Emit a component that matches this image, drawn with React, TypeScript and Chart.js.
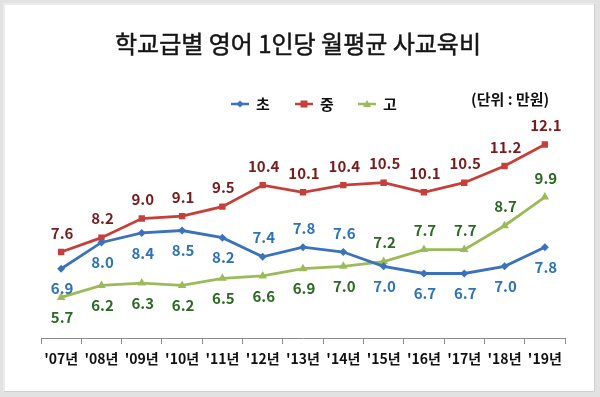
import React, { useEffect, useRef } from 'react';
import { Chart, registerables } from 'chart.js';

Chart.register(...registerables);

const title = '학교급별 영어 1인당 월평균 사교육비';
const unitText = '(단위 : 만원)';
const years = ["'07년", "'08년", "'09년", "'10년", "'11년", "'12년", "'13년", "'14년", "'15년", "'16년", "'17년", "'18년", "'19년"];
const seriesNames = ['초', '중', '고'];
const elementary = [6.9, 8.0, 8.4, 8.5, 8.2, 7.4, 7.8, 7.6, 7.0, 6.7, 6.7, 7.0, 7.8];
const middle = [7.6, 8.2, 9.0, 9.1, 9.5, 10.4, 10.1, 10.4, 10.5, 10.1, 10.5, 11.2, 12.1];
const high = [5.7, 6.2, 6.3, 6.2, 6.5, 6.6, 6.9, 7.0, 7.2, 7.7, 7.7, 8.7, 9.9];

// label placement per point: 'a' above, 'b' below
const elementaryLabelPos = ['b', 'b', 'b', 'b', 'b', 'a', 'a', 'a', 'b', 'b', 'b', 'b', 'b'];
const middleLabelPos = ['a', 'a', 'a', 'a', 'a', 'a', 'a', 'a', 'a', 'a', 'a', 'a', 'a'];
const highLabelPos = ['b', 'b', 'b', 'b', 'b', 'b', 'b', 'b', 'a', 'a', 'a', 'a', 'a'];

const FONT = "'Noto Sans CJK KR', 'Noto Sans', sans-serif";
const lineColors = ['#3b72bd', '#c63f3a', '#9bbb59'];
const labelColors = ['#2e73b8', '#7a1c1c', '#2b6a23'];
const pointStyles = ['rectRot', 'rect', 'triangle'];
const pointRadii = [4, 4.5, 5];

const decorPlugin = {
  id: 'decor',
  beforeDraw(chart: any) {
    const ctx = chart.ctx;
    const W = chart.width;
    const H = chart.height;
    ctx.save();
    ctx.fillStyle = '#e2e2e2';
    ctx.fillRect(0, 0, W, H);
    ctx.fillStyle = '#ececec';
    ctx.fillRect(3, 3, W - 8, H - 8);
    ctx.fillStyle = '#ffffff';
    ctx.fillRect(5, 5, W - 11, H - 11);
    ctx.fillStyle = '#cfcfcf';
    ctx.fillRect(W - 6, 4, 1, H - 9);
    ctx.fillRect(4, H - 6, W - 9, 1);
    ctx.restore();
  },
  afterDraw(chart: any) {
    const ctx = chart.ctx;
    ctx.save();
    // title
    ctx.fillStyle = '#151515';
    ctx.strokeStyle = '#151515';
    ctx.lineWidth = 0.5;
    ctx.font = `normal 24px ${FONT}`;
    ctx.textAlign = 'center';
    ctx.textBaseline = 'middle';
    ctx.fillText(title, 298, 44);
    ctx.strokeText(title, 298, 44);

    // unit
    ctx.font = `bold 15px ${FONT}`;
    ctx.fillStyle = '#111';
    ctx.textAlign = 'left';
    ctx.fillText(unitText, 471, 99);

    // legend
    const legendX = [231, 295, 358];
    const ly = 104;
    seriesNames.forEach((name, i) => {
      const x0 = legendX[i];
      ctx.strokeStyle = lineColors[i];
      ctx.lineWidth = 2.5;
      ctx.beginPath();
      ctx.moveTo(x0, ly);
      ctx.lineTo(x0 + 18, ly);
      ctx.stroke();
      ctx.fillStyle = lineColors[i];
      const cx = x0 + 9;
      ctx.beginPath();
      if (i === 0) {
        ctx.moveTo(cx, ly - 3.5);
        ctx.lineTo(cx + 3.5, ly);
        ctx.lineTo(cx, ly + 3.5);
        ctx.lineTo(cx - 3.5, ly);
      } else if (i === 1) {
        ctx.rect(cx - 3.5, ly - 3.5, 7, 7);
      } else {
        ctx.moveTo(cx, ly - 4);
        ctx.lineTo(cx + 4, ly + 3);
        ctx.lineTo(cx - 4, ly + 3);
      }
      ctx.closePath();
      ctx.fill();
      ctx.fillStyle = '#111';
      ctx.font = `bold 15px ${FONT}`;
      ctx.textAlign = 'left';
      ctx.textBaseline = 'middle';
      ctx.fillText(name, x0 + 25, ly);
    });

    // data labels
    const positions = [elementaryLabelPos, middleLabelPos, highLabelPos];
    chart.data.datasets.forEach((ds: any, di: number) => {
      const meta = chart.getDatasetMeta(di);
      ctx.fillStyle = labelColors[di];
      ctx.font = `bold 15px ${FONT}`;
      ctx.textAlign = 'center';
      ctx.textBaseline = 'middle';
      meta.data.forEach((pt: any, idx: number) => {
        const v = ds.data[idx];
        const pos = positions[di][idx];
        const dy = pos === 'a' ? -19 : 20;
        ctx.fillText(v.toFixed(1), pt.x + 1, pt.y + dy);
      });
    });
    ctx.restore();
  },
};

export default function App() {
  const ref = useRef<HTMLCanvasElement | null>(null);
  useEffect(() => {
    document.body.style.margin = '0';
    const canvas = ref.current;
    if (!canvas) return;
    const datasets = [elementary, middle, high].map((data, i) => ({
      label: seriesNames[i],
      data,
      borderColor: lineColors[i],
      backgroundColor: lineColors[i],
      pointBackgroundColor: lineColors[i],
      pointBorderColor: lineColors[i],
      pointBorderWidth: 0,
      pointStyle: pointStyles[i],
      pointRadius: pointRadii[i],
      borderWidth: 2.8,
      tension: 0,
      fill: false,
    }));
    const chart = new Chart(canvas, {
      type: 'line',
      data: { labels: years, datasets },
      options: {
        responsive: false,
        animation: false,
        layout: { padding: { top: 123, left: 41, right: 35, bottom: 0 } },
        plugins: {
          legend: { display: false },
          title: { display: false },
          tooltip: { enabled: false },
        },
        scales: {
          x: {
            offset: true,
            grid: {
              display: true,
              drawOnChartArea: false,
              drawTicks: true,
              tickLength: 6,
              color: '#8c8c8c',
              offset: true,
            },
            border: { display: true, color: '#8c8c8c', width: 1 },
            ticks: {
              color: '#111',
              font: { family: FONT, size: 14, weight: 'bold' },
              padding: 6,
              maxRotation: 0,
              autoSkip: false,
            },
            afterFit: (s: any) => {
              s.height = 59;
            },
          },
          y: { display: false, min: 4, max: 13 },
        },
      },
      plugins: [decorPlugin],
    } as any);
    return () => chart.destroy();
  }, []);
  return (
    <div style={{ width: 600, height: 397 }}>
      <canvas ref={ref} width={600} height={397} style={{ display: 'block' }} />
    </div>
  );
}
